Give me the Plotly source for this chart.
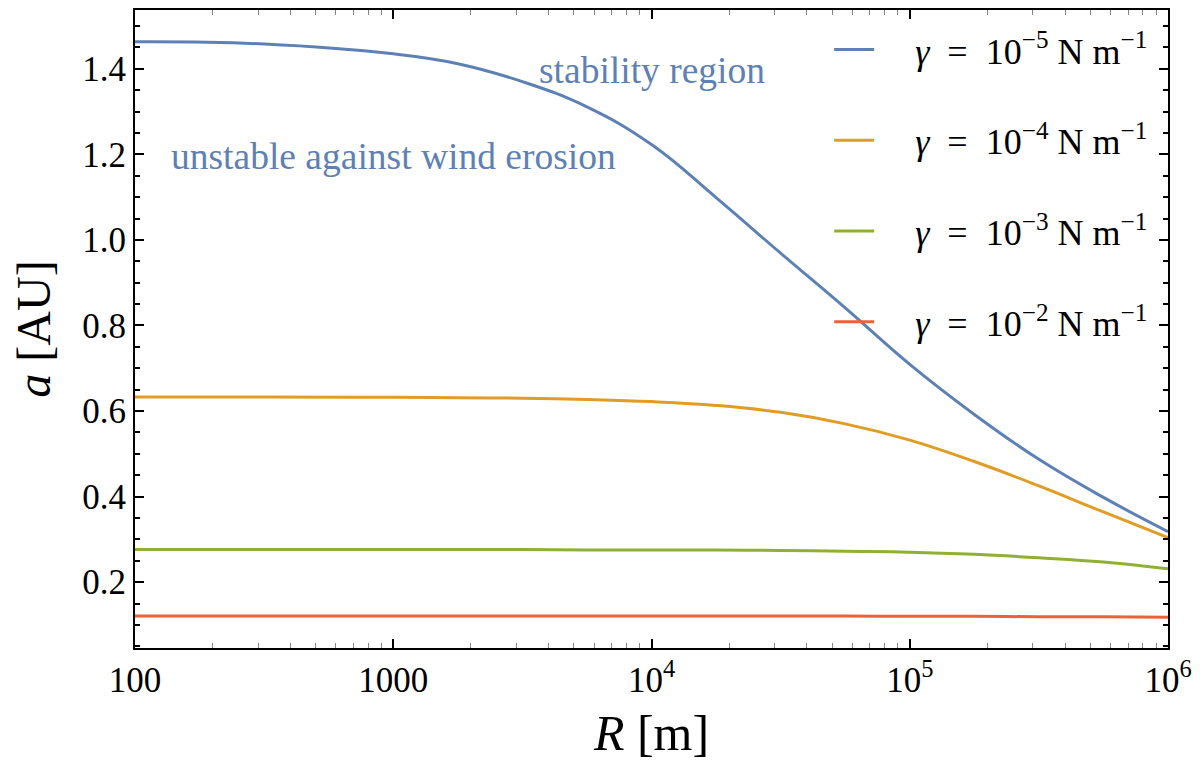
import plotly.graph_objects as go

# ---- data ----
logR = [2.0, 2.5, 3.0, 3.25, 3.5, 3.75, 4.0, 4.25, 4.5, 4.75, 5.0, 5.25, 5.5, 5.75, 6.0]
R = [10 ** v for v in logR]

a_g5 = [1.463, 1.458, 1.435, 1.412, 1.370, 1.311, 1.223, 1.099, 0.969, 0.841, 0.709, 0.592, 0.487, 0.398, 0.318]
a_g4 = [0.633, 0.633, 0.632, 0.631, 0.630, 0.627, 0.622, 0.613, 0.597, 0.570, 0.532, 0.482, 0.425, 0.364, 0.304]
a_g3 = [0.276, 0.276, 0.276, 0.276, 0.276, 0.275, 0.275, 0.275, 0.274, 0.272, 0.270, 0.265, 0.257, 0.247, 0.231]
a_g2 = [0.121, 0.121, 0.121, 0.121, 0.121, 0.121, 0.121, 0.121, 0.121, 0.121, 0.120, 0.120, 0.119, 0.119, 0.118]

series = [
    ("−5", a_g5, "#5e81b5"),
    ("−4", a_g4, "#e19c24"),
    ("−3", a_g3, "#8fb032"),
    ("−2", a_g2, "#eb6235"),
]

xtick_vals = [100, 1000, 1e4, 1e5, 1e6]
xtick_text = ["100", "1000", "10<sup>4</sup>", "10<sup>5</sup>", "10<sup>6</sup>"]
ytick_vals = [0.2, 0.4, 0.6, 0.8, 1.0, 1.2, 1.4]
ytick_text = ["0.2", "0.4", "0.6", "0.8", "1.0", "1.2", "1.4"]

SERIF = "Liberation Serif, Times New Roman, serif"
NB = "\u00a0"

fig = go.Figure()
for i, (exp, vals, col) in enumerate(series):
    fig.add_trace(go.Scatter(
        x=R, y=vals, mode="lines",
        line=dict(color=col, width=3, shape="spline", smoothing=1.2),
        name=f"{NB*4}<i>γ</i>{NB*2}={NB*2}10<sup>{exp}</sup>{NB}N{NB}m<sup>−1</sup>",
        legendgroup=f"g{i}",
    ))

minor_x = [m * 10 ** d for d in range(2, 6) for m in range(2, 10)]

fig.update_layout(
    width=1200, height=780,
    margin=dict(l=135, r=28, t=8, b=132),
    paper_bgcolor="white", plot_bgcolor="white",
    font=dict(family=SERIF, size=35, color="black"),
    showlegend=True,
    legend=dict(
        x=0.672, y=0.985, xanchor="left", yanchor="top",
        bgcolor="rgba(0,0,0,0)", font=dict(size=36, family=SERIF),
        tracegroupgap=41, itemwidth=40,
    ),
    xaxis=dict(
        type="log", range=[2, 6],
        tickvals=xtick_vals, ticktext=xtick_text,
        ticks="inside", ticklen=9, tickwidth=1.5, tickcolor="black",
        showline=True, linewidth=2, linecolor="black", mirror="ticks",
        showgrid=False, zeroline=False,
        minor=dict(tickvals=minor_x, ticks="inside", ticklen=5, tickcolor="#888", tickwidth=1),
        tickfont=dict(size=35),
        title=dict(text="<i>R</i> [m]", font=dict(size=50), standoff=16),
    ),
    yaxis=dict(
        range=[0.046, 1.5375],
        tickvals=ytick_vals, ticktext=ytick_text,
        ticks="inside", ticklen=9, tickwidth=2, tickcolor="black",
        showline=True, linewidth=2, linecolor="black", mirror="ticks",
        showgrid=False, zeroline=False,
        minor=dict(dtick=0.05, ticks="inside", ticklen=5, tickcolor="black", tickwidth=1.5),
        tickfont=dict(size=35),
        title=dict(text="<i>a</i> [AU]", font=dict(size=48), standoff=16),
    ),
)

fig.add_annotation(x=4.0, y=1.395, xref="x", yref="y", text="stability region",
                   showarrow=False, font=dict(size=37.5, color="#5e81b5", family=SERIF))
fig.add_annotation(x=3.0, y=1.195, xref="x", yref="y", text="unstable against wind erosion",
                   showarrow=False, font=dict(size=37.5, color="#5e81b5", family=SERIF))

fig.write_html("out.html")
